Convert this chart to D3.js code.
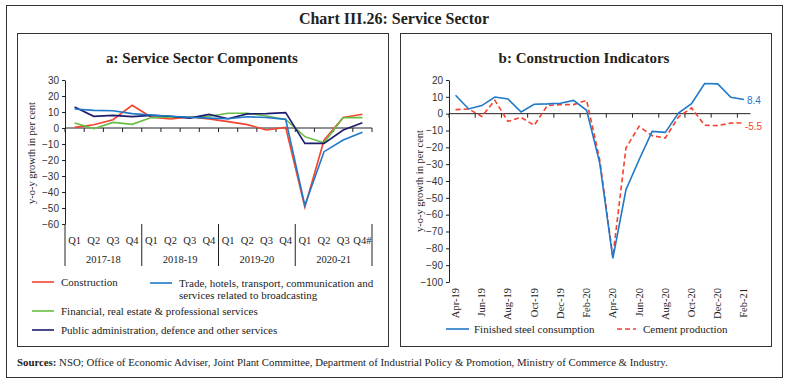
<!DOCTYPE html>
<html>
<head>
<meta charset="utf-8">
<script src="https://cdn.jsdelivr.net/npm/d3@7"></script>
<style>
	body { margin: 0; background: #fff; }
	text { font-family: "Liberation Serif", serif; fill: #222; }
	.tick text { font-family: "Liberation Sans", sans-serif; font-size: 10px; fill: #333; }
</style>
</head>
<body>
<script>
	"use strict";

	// panel a: quarterly GVA growth
	var years = ["2017-18", "2018-19", "2019-20", "2020-21"];
	var quarters = ["Q1", "Q2", "Q3", "Q4"];
	var construction = [0.4, 2.0, 5.2, 14.2, 6.7, 5.6, 6.9, 5.7, 4.0, 2.1, -1.2, 0.4, -49.4, -7.6, 6.6, 8.6];
	var trade = [11.9, 11.0, 10.8, 9.0, 8.1, 7.3, 6.7, 6.2, 5.8, 7.0, 6.6, 5.4, -48.4, -14.8, -7.5, -2.7];
	var financial = [3.1, -0.4, 3.5, 2.3, 6.5, 6.9, 6.7, 7.3, 9.2, 9.2, 7.5, 5.3, -5.4, -9.2, 6.5, 6.5];
	var publicAdmin = [13.1, 7.3, 7.9, 7.1, 7.9, 7.3, 6.2, 8.5, 5.8, 8.8, 9.0, 9.6, -9.6, -9.6, -1.3, 3.3];
	var yTicksA = [30, 20, 10, 0, -10, -20, -30, -40, -50, -60];

	// panel b: monthly indicators
	var months = ["Apr-19", "May-19", "Jun-19", "Jul-19", "Aug-19", "Sep-19", "Oct-19", "Nov-19", "Dec-19",
		"Jan-20", "Feb-20", "Mar-20", "Apr-20", "May-20", "Jun-20", "Jul-20", "Aug-20", "Sep-20", "Oct-20",
		"Nov-20", "Dec-20", "Jan-21", "Feb-21"];
	var steel = [10.9, 2.8, 4.8, 9.9, 8.7, 1.0, 5.6, 5.8, 6.2, 7.9, 2.0, -29.4, -86.0, -45.2, -27.4, -10.5,
		-11.1, 0.4, 6.0, 17.9, 17.7, 9.7, 8.4];
	var cement = [2.4, 2.8, -1.6, 7.9, -4.6, -2.2, -6.9, 4.8, 5.4, 5.4, 7.9, -27.4, -85.0, -20.4, -7.5, -13.1,
		-14.5, -2.0, 3.4, -6.9, -7.1, -5.6, -5.5];
	var yTicksB = [20, 10, 0, -10, -20, -30, -40, -50, -60, -70, -80, -90, -100];

	var width = 787, height = 385;
	var svg = d3.select("body").append("svg")
		.attr("width", width)
		.attr("height", height);

	// frames
	svg.append("rect").attr("x", 6.5).attr("y", 5.5).attr("width", 776).attr("height", 372)
		.attr("fill", "none").attr("stroke", "#333").attr("stroke-width", 1);
	svg.append("rect").attr("x", 17.5).attr("y", 33.5).attr("width", 371).attr("height", 313)
		.attr("fill", "none").attr("stroke", "#333").attr("stroke-width", 1);
	svg.append("rect").attr("x", 400.5).attr("y", 33.5).attr("width", 371).attr("height", 313)
		.attr("fill", "none").attr("stroke", "#333").attr("stroke-width", 1);

	svg.append("text").attr("x", 394).attr("y", 24).attr("text-anchor", "middle")
		.style("font-size", "16px").style("font-weight", "bold")
		.text("Chart III.26: Service Sector");
	svg.append("text").attr("x", 202).attr("y", 63).attr("text-anchor", "middle")
		.style("font-size", "15px").style("font-weight", "bold")
		.text("a: Service Sector Components");
	svg.append("text").attr("x", 584).attr("y", 63).attr("text-anchor", "middle")
		.style("font-size", "15px").style("font-weight", "bold")
		.text("b: Construction Indicators");

	var sources = svg.append("text").attr("x", 17).attr("y", 366).style("font-size", "10.8px");
	sources.append("tspan").style("font-weight", "bold").text("Sources: ");
	sources.append("tspan").text("NSO; Office of Economic Adviser, Joint Plant Committee, Department of Industrial Policy & Promotion, Ministry of Commerce & Industry.");

	// ---------- panel a ----------
	var qKeys = [];
	years.forEach(function(y) {
		quarters.forEach(function(q) { qKeys.push(y + " " + q); });
	});

	var xA = d3.scaleBand().domain(qKeys).range([65, 372]);
	var yA = d3.scaleLinear().domain([-60, 30]).range([224, 80]);

	var gA = svg.append("g");
	gA.append("g")
		.attr("transform", "translate(65,0)")
		.call(d3.axisLeft(yA).tickValues(yTicksA).tickSize(3).tickSizeOuter(0))
		.call(function(g) { g.selectAll("path, line").attr("stroke", "#222"); });

	// zero line with quarter ticks
	gA.append("line").attr("x1", 65).attr("x2", 372).attr("y1", yA(0)).attr("y2", yA(0))
		.attr("stroke", "#222");
	gA.selectAll(".qtick").data(d3.range(qKeys.length + 1)).enter().append("line")
		.attr("x1", function(d) { return 65 + d * xA.step(); })
		.attr("x2", function(d) { return 65 + d * xA.step(); })
		.attr("y1", yA(0)).attr("y2", yA(0) + 4)
		.attr("stroke", "#222");

	// year separators below plot
	gA.selectAll(".ysep").data(d3.range(years.length + 1)).enter().append("line")
		.attr("x1", function(d) { return 65 + d * 4 * xA.step(); })
		.attr("x2", function(d) { return 65 + d * 4 * xA.step(); })
		.attr("y1", yA(-60)).attr("y2", 266)
		.attr("stroke", "#222");

	gA.selectAll(".qlab").data(qKeys).enter().append("text")
		.attr("x", function(d) { return xA(d) + xA.bandwidth() / 2; })
		.attr("y", 244).attr("text-anchor", "middle")
		.style("font-size", "10.5px")
		.text(function(d, i) { return quarters[i % 4] + (i === qKeys.length - 1 ? "#" : ""); });
	gA.selectAll(".ylab").data(years).enter().append("text")
		.attr("x", function(d, i) { return 65 + (i * 4 + 2) * xA.step(); })
		.attr("y", 263).attr("text-anchor", "middle")
		.style("font-size", "10.5px")
		.text(function(d) { return d; });

	svg.append("text")
		.attr("transform", "translate(35,153) rotate(-90)")
		.attr("text-anchor", "middle").style("font-size", "10.5px")
		.text("y-o-y growth in per cent");

	var seriesA = [
		{ name: "Construction", values: construction, color: "#f4432e" },
		{ name: "Financial, real estate & professional services", values: financial, color: "#67bd45" },
		{ name: "Public administration, defence and other services", values: publicAdmin, color: "#1c1c6e" },
		{ name: "Trade", values: trade, color: "#1f78c8" }
	];

	var lineA = d3.line()
		.x(function(d, i) { return xA(qKeys[i]) + xA.bandwidth() / 2; })
		.y(function(d) { return yA(d); });

	gA.selectAll(".sA").data(seriesA).enter().append("path")
		.attr("fill", "none")
		.attr("stroke", function(d) { return d.color; })
		.attr("stroke-width", 1.6)
		.attr("d", function(d) { return lineA(d.values); });

	// legend a
	var legA = [
		{ x: 32, y: 282, lines: ["Construction"], color: "#f4432e" },
		{ x: 150, y: 283, lines: ["Trade, hotels, transport, communication and", "services related to broadcasting"], color: "#1f78c8" },
		{ x: 32, y: 311, lines: ["Financial, real estate & professional services"], color: "#67bd45" },
		{ x: 32, y: 330, lines: ["Public administration, defence and other services"], color: "#1c1c6e" }
	];
	legA.forEach(function(l) {
		svg.append("line").attr("x1", l.x).attr("x2", l.x + 22).attr("y1", l.y).attr("y2", l.y)
			.attr("stroke", l.color).attr("stroke-width", 1.6);
		l.lines.forEach(function(t, j) {
			svg.append("text").attr("x", l.x + 29).attr("y", l.y + 4 + j * 12)
				.style("font-size", "11px").text(t);
		});
	});

	// ---------- panel b ----------
	var xB = d3.scaleBand().domain(months).range([449, 750.5]);
	var yB = d3.scaleLinear().domain([-100, 20]).range([282, 80]);

	var gB = svg.append("g");
	gB.append("g")
		.attr("transform", "translate(449,0)")
		.call(d3.axisLeft(yB).tickValues(yTicksB).tickSize(3).tickSizeOuter(0))
		.call(function(g) { g.selectAll("path, line").attr("stroke", "#222"); });

	gB.append("line").attr("x1", 449).attr("x2", 750.5).attr("y1", yB(0)).attr("y2", yB(0))
		.attr("stroke", "#222");
	gB.selectAll(".mtick").data(d3.range(0, months.length, 2)).enter().append("line")
		.attr("x1", function(d) { return xB(months[d]); })
		.attr("x2", function(d) { return xB(months[d]); })
		.attr("y1", yB(0)).attr("y2", yB(0) + 4)
		.attr("stroke", "#222");

	gB.selectAll(".mlab").data(months.filter(function(d, i) { return i % 2 === 0; })).enter().append("text")
		.attr("transform", function(d) {
			return "translate(" + (xB(d) + xB.bandwidth() / 2 + 3.5) + ",288) rotate(-90)";
		})
		.attr("text-anchor", "end")
		.style("font-size", "10.5px")
		.text(function(d) { return d; });

	svg.append("text")
		.attr("transform", "translate(423,181) rotate(-90)")
		.attr("text-anchor", "middle").style("font-size", "10.5px")
		.text("y-o-y growth in per cent");

	var lineB = d3.line()
		.x(function(d, i) { return xB(months[i]) + xB.bandwidth() / 2; })
		.y(function(d) { return yB(d); });

	gB.append("path").attr("fill", "none").attr("stroke", "#f4432e").attr("stroke-width", 1.6)
		.attr("stroke-dasharray", "5,3")
		.attr("d", lineB(cement));
	gB.append("path").attr("fill", "none").attr("stroke", "#1f78c8").attr("stroke-width", 1.6)
		.attr("d", lineB(steel));

	var last = months.length - 1;
	gB.append("text").attr("x", xB(months[last]) + xB.bandwidth() / 2 + 3).attr("y", yB(steel[last]) + 4)
		.style("font-family", "Liberation Sans, sans-serif").style("font-size", "10px").style("fill", "#1f78c8")
		.text(steel[last]);
	gB.append("text").attr("x", xB(months[last]) + xB.bandwidth() / 2 + 1).attr("y", yB(cement[last]) + 7)
		.style("font-family", "Liberation Sans, sans-serif").style("font-size", "10px").style("fill", "#f4432e")
		.text(cement[last]);

	// legend b
	svg.append("line").attr("x1", 446).attr("x2", 469).attr("y1", 329).attr("y2", 329)
		.attr("stroke", "#1f78c8").attr("stroke-width", 1.6);
	svg.append("text").attr("x", 474).attr("y", 333).style("font-size", "11px").text("Finished steel consumption");
	svg.append("line").attr("x1", 617).attr("x2", 636).attr("y1", 329).attr("y2", 329)
		.attr("stroke", "#f4432e").attr("stroke-width", 1.6).attr("stroke-dasharray", "5,3");
	svg.append("text").attr("x", 643).attr("y", 333).style("font-size", "11px").text("Cement production");
</script>
</body>
</html>
